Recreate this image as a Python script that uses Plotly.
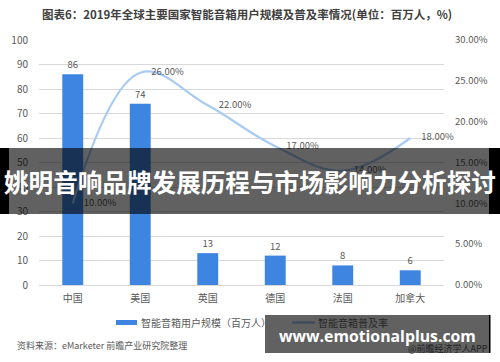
import plotly.graph_objects as go

countries = ["中国", "美国", "英国", "德国", "法国", "加拿大"]
users = [86, 74, 13, 12, 8, 6]
penetration = [0.10, 0.26, 0.22, 0.17, 0.14, 0.18]
left_ticks = [0, 10, 20, 30, 40, 50, 60, 70, 80, 90, 100]
right_ticks = [0, 0.05, 0.10, 0.15, 0.20, 0.25, 0.30]

W, H = 500, 362
L, R, T, B = 39, 56, 40, 77
PW, PH = W - L - R, H - T - B
FONT = "Noto Sans CJK SC"
GRAY = "#595959"
BLUE = "#3d85e0"
LINE = "#a8cbf3"


def px(x):
    return (x - L) / PW


def py(y):
    return (H - B - y) / PH


fig = go.Figure()
fig.add_trace(go.Bar(
    x=countries, y=users, width=0.31, marker=dict(color=BLUE, line=dict(width=0)),
    text=[str(v) for v in users], textposition="outside", cliponaxis=False,
    textfont=dict(size=9.5, color=GRAY, family=FONT), showlegend=False,
))
fig.add_trace(go.Scatter(
    x=countries, y=penetration, yaxis="y2", mode="lines+markers+text",
    line=dict(color=LINE, width=2.2, shape="spline", smoothing=1.1),
    marker=dict(size=16, color="rgba(0,0,0,0)", line=dict(width=0)),
    text=[f"{v*100:.2f}%" for v in penetration], textposition="middle right",
    textfont=dict(size=9.5, color=GRAY, family=FONT), cliponaxis=False, showlegend=False,
))

shapes = []
annotations = []
# manual legend (drawn below the overlay boxes)
shapes.append(dict(type="rect", xref="paper", yref="paper", layer="below",
                   x0=px(116), x1=px(137), y0=py(325), y1=py(320),
                   fillcolor=BLUE, line=dict(width=0)))
annotations.append(dict(xref="paper", yref="paper", x=px(139), y=py(322.5),
                        xanchor="left", yanchor="middle", showarrow=False,
                        text="智能音箱用户规模（百万人）",
                        font=dict(size=10, color=GRAY, family=FONT)))
shapes.append(dict(type="line", xref="paper", yref="paper", layer="below",
                   x0=px(292), x1=px(315), y0=py(322.5), y1=py(322.5),
                   line=dict(color=LINE, width=2.5)))
annotations.append(dict(xref="paper", yref="paper", x=px(316), y=py(322.5),
                        xanchor="left", yanchor="middle", showarrow=False,
                        text="智能音箱普及率",
                        font=dict(size=10, color="#252525", family=FONT)))
# source
annotations.append(dict(xref="paper", yref="paper", x=px(15), y=py(346),
                        xanchor="left", yanchor="middle", showarrow=False,
                        text="资料来源：eMarketer 前瞻产业研究院整理",
                        font=dict(size=9, color=GRAY, family=FONT)))
annotations.append(dict(xref="paper", yref="paper", x=px(490), y=py(348),
                        xanchor="right", yanchor="middle", showarrow=False,
                        text="@前瞻经济学人APP",
                        font=dict(size=9, color="#1e1e1e", family=FONT)))

# overlay banner
OVER = "rgba(0,0,0,0.62)"
shapes.append(dict(type="rect", xref="paper", yref="paper", layer="above",
                   x0=px(9), x1=px(489), y0=py(214), y1=py(148),
                   fillcolor=OVER, line=dict(width=0)))
shapes.append(dict(type="rect", xref="paper", yref="paper", layer="above",
                   x0=px(0), x1=px(9), y0=py(214), y1=py(148),
                   fillcolor="black", line=dict(width=0)))
shapes.append(dict(type="rect", xref="paper", yref="paper", layer="above",
                   x0=px(489), x1=px(500), y0=py(214), y1=py(148),
                   fillcolor="black", line=dict(width=0)))
annotations.append(dict(xref="paper", yref="paper", x=px(250), y=py(181),
                        xanchor="center", yanchor="middle", showarrow=False,
                        text="<b>姚明音响品牌发展历程与市场影响力分析探讨</b>",
                        font=dict(size=24.6, color="white", family=FONT)))
# bottom website box
shapes.append(dict(type="rect", xref="paper", yref="paper", layer="above",
                   x0=px(265), x1=px(489), y0=py(353), y1=py(315),
                   fillcolor=OVER, line=dict(width=0)))
shapes.append(dict(type="rect", xref="paper", yref="paper", layer="above",
                   x0=px(489), x1=px(490.5), y0=py(353), y1=py(315),
                   fillcolor="black", line=dict(width=0)))
annotations.append(dict(xref="paper", yref="paper", x=px(377.5), y=py(336),
                        xanchor="center", yanchor="middle", showarrow=False,
                        text="<b>www.emotionalplus.com</b>",
                        font=dict(size=15.8, color="white", family="Open Sans")))

fig.update_layout(
    width=W, height=H, margin=dict(l=L, r=R, t=T, b=B, pad=0),
    paper_bgcolor="white", plot_bgcolor="white",
    title=dict(text="<b>图表6：2019年全球主要国家智能音箱用户规模及普及率情况(单位：百万人，%)</b>",
               x=0.494, xref="container", xanchor="center",
               y=1 - 15 / H, yref="container", yanchor="middle",
               font=dict(size=11.5, color="#404040", family=FONT)),
    font=dict(family=FONT, color=GRAY),
    xaxis=dict(type="category", showgrid=False, showline=False, ticks="",
               tickfont=dict(size=10, color=GRAY, family=FONT), ticklabelstandoff=6),
    yaxis=dict(range=[0, 100], tickvals=left_ticks, showgrid=True, gridcolor="#d9d9d9",
               gridwidth=1, zeroline=True, zerolinecolor="#d9d9d9", zerolinewidth=1,
               showline=False, ticks="", tickfont=dict(size=10, color=GRAY, family=FONT),
               ticklabelstandoff=10),
    yaxis2=dict(range=[0, 0.30], tickvals=right_ticks, tickformat=".2%", overlaying="y",
                side="right", showgrid=False, zeroline=False, showline=False, ticks="",
                tickfont=dict(size=9.5, color=GRAY, family=FONT), ticklabelstandoff=10),
    showlegend=False, shapes=shapes, annotations=annotations, bargap=0.69,
)

fig.write_html("out.html", config={"displayModeBar": False},
               post_script="document.body.style.margin='0';document.body.style.overflow='hidden';")
